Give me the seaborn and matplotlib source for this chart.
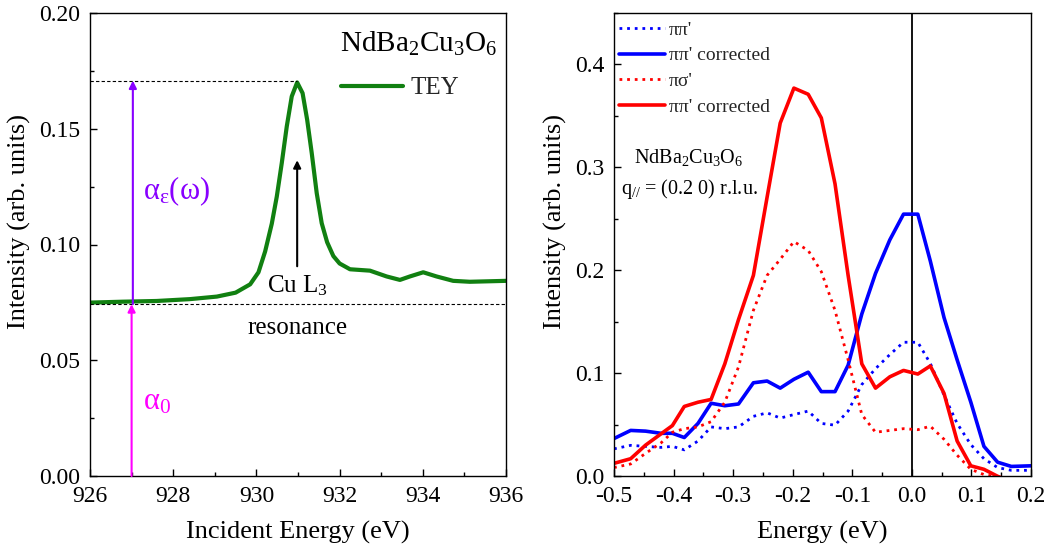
import numpy as np
import pandas as pd
import matplotlib
matplotlib.use("Agg")
import matplotlib.pyplot as plt
from matplotlib.ticker import AutoMinorLocator
import seaborn as sns

# ---------------- data ----------------
# Left panel: TEY absorption
tey_energy = [926.0, 926.8, 927.6, 928.4, 929.05, 929.5, 929.85, 930.05, 930.21,
              930.37, 930.49, 930.61, 930.73, 930.85, 930.98, 931.11, 931.22,
              931.33, 931.45, 931.57, 931.7, 931.85, 932.0, 932.25, 932.73,
              933.13, 933.45, 933.69, 934.01, 934.33, 934.73, 935.13, 936.0]
tey_intensity = [0.0749, 0.0753, 0.0756, 0.0764, 0.0775, 0.0792, 0.0828, 0.0880, 0.0970,
                 0.1090, 0.1207, 0.1352, 0.1510, 0.1640, 0.1700, 0.1654, 0.1539,
                 0.1395, 0.1222, 0.1092, 0.1010, 0.0950, 0.0918, 0.0893, 0.0887,
                 0.0862, 0.0847, 0.0862, 0.0880, 0.0862, 0.0843, 0.0839, 0.0843]
baseline_level = 0.0742
arrow_energy = 927.0

# Right panel: RIXS spectra
rixs_energy = [-0.500, -0.472, -0.447, -0.421, -0.402, -0.382, -0.359, -0.337, -0.314,
               -0.291, -0.266, -0.243, -0.221, -0.198, -0.174, -0.152, -0.129, -0.107,
               -0.084, -0.061, -0.037, -0.014, 0.010, 0.031, 0.054, 0.076, 0.099,
               0.121, 0.144, 0.167, 0.200]
pipi = [0.0264, 0.0298, 0.0288, 0.0278, 0.0288, 0.0254, 0.0340, 0.0477, 0.0460,
        0.0477, 0.0580, 0.0614, 0.0563, 0.0597, 0.0631, 0.0511, 0.0494, 0.0631,
        0.0889, 0.1043, 0.1180, 0.1300, 0.1300, 0.1094, 0.0786, 0.0511, 0.0305,
        0.0168, 0.0082, 0.0055, 0.0055]
pipi_corr = [0.0364, 0.0443, 0.0436, 0.0415, 0.0415, 0.0374, 0.0511, 0.0707, 0.0683,
             0.0700, 0.0906, 0.0923, 0.0854, 0.0940, 0.1009, 0.0820, 0.0820, 0.1077,
             0.1575, 0.1969, 0.2295, 0.2545, 0.2545, 0.2089, 0.1540, 0.1129, 0.0717,
             0.0288, 0.0134, 0.0093, 0.0099]
pisig = [0.0082, 0.0117, 0.0220, 0.0322, 0.0425, 0.0460, 0.0477, 0.0528, 0.0717,
         0.1060, 0.1610, 0.1950, 0.2106, 0.2278, 0.2192, 0.1986, 0.1610, 0.1129,
         0.0597, 0.0425, 0.0443, 0.0460, 0.0450, 0.0484, 0.0357, 0.0202, 0.0065,
         0.0014, -0.0010, -0.0040, -0.0060]
pisig_corr = [0.0123, 0.0168, 0.0300, 0.0410, 0.0490, 0.0676, 0.0717, 0.0744, 0.1090,
              0.1520, 0.1950, 0.2710, 0.3430, 0.3770, 0.3710, 0.3480, 0.2840, 0.1950,
              0.1090, 0.0854, 0.0964, 0.1026, 0.0991, 0.1070, 0.0803, 0.0340, 0.0099,
              0.0065, -0.0003, -0.0055, -0.0100]
legend_labels = ["\u03c0\u03c0'", "\u03c0\u03c0' corrected", "\u03c0\u03c3'", "\u03c0\u03c0' corrected"]

# ---------------- style ----------------
sns.set_theme(style="ticks")
plt.rcParams["font.family"] = ["Liberation Serif", "DejaVu Serif"]
plt.rcParams["mathtext.fontset"] = "custom"
plt.rcParams["mathtext.rm"] = "Liberation Serif"
plt.rcParams["mathtext.it"] = "Liberation Serif:italic"
plt.rcParams["mathtext.default"] = "regular"
plt.rcParams["axes.unicode_minus"] = False

GREEN = "#118011"
BLUE = "#0000ff"
RED = "#ff0000"
PURPLE = "#8800ff"
MAGENTA = "#ff00ff"

W, H = 1048, 553
fig = plt.figure(figsize=(W / 100, H / 100), dpi=100)
ax1 = fig.add_axes([90 / W, (H - 476) / H, 416 / W, 463 / H])
ax2 = fig.add_axes([614 / W, (H - 476) / H, 417 / W, 463 / H])


def style_axis(ax):
    for s in ax.spines.values():
        s.set_color("black")
        s.set_linewidth(1.0)
    ax.tick_params(which="both", direction="in", top=False, right=False,
                   colors="black", labelsize=17, width=1.0, pad=7)
    ax.tick_params(which="major", length=5)
    ax.tick_params(which="minor", length=3)
    ax.xaxis.set_minor_locator(AutoMinorLocator(2))
    ax.yaxis.set_minor_locator(AutoMinorLocator(2))


# ---------------- left panel ----------------
df_tey = pd.DataFrame({"E": tey_energy, "I": tey_intensity})
sns.lineplot(data=df_tey, x="E", y="I", ax=ax1, color=GREEN, lw=3,
             sort=False, estimator=None, label="TEY")

peak_idx = int(np.argmax(tey_intensity))
peak_E = tey_energy[peak_idx]
peak_I = tey_intensity[peak_idx]

ax1.set_xlim(926, 936)
ax1.set_ylim(0, 0.20)
ax1.set_xticks([926, 928, 930, 932, 934, 936])
ax1.set_yticks([0.0, 0.05, 0.10, 0.15, 0.20])
ax1.set_yticklabels([f"{v:.2f}" for v in [0.0, 0.05, 0.10, 0.15, 0.20]])
style_axis(ax1)

ax1.hlines(peak_I + 0.0008, 926, peak_E, colors="black", lw=0.8, linestyles=(0, (3, 2)))
ax1.hlines(baseline_level, 926, 936, colors="black", lw=0.8, linestyles=(0, (3, 2)))

arr = dict(arrowstyle="-|>", lw=1.5, mutation_scale=11, shrinkA=0, shrinkB=0)
ax1.annotate("", xy=(arrow_energy, baseline_level), xytext=(arrow_energy, 0),
             arrowprops=dict(arr, color=MAGENTA))
ax1.annotate("", xy=(arrow_energy + 0.03, peak_I + 0.0008),
             xytext=(arrow_energy + 0.03, baseline_level),
             arrowprops=dict(arr, color=PURPLE))
ax1.annotate("", xy=(peak_E, 0.1364), xytext=(peak_E, 0.0906),
             arrowprops=dict(arr, color="black"))

ax1.text(927.27, 0.1228, "\u03b1$_{\u03b5}$(\u03c9)", color=PURPLE, fontsize=22,
         ha="left", va="center")
ax1.text(927.27, 0.032, "\u03b1$_{0}$", color=MAGENTA, fontsize=22,
         ha="left", va="center")
ax1.text(peak_E, 0.082, "Cu L$_{3}$", color="black", fontsize=18,
         ha="center", va="center")
ax1.text(peak_E, 0.064, "resonance", color="black", fontsize=18,
         ha="center", va="center")
ax1.text(935.78, 0.1867, "NdBa$_{2}$Cu$_{3}$O$_{6}$", color="black", fontsize=21,
         ha="right", va="center")

ax1.legend(loc="center left", bbox_to_anchor=(0.603, 0.838), frameon=False,
           fontsize=18, handlelength=2.48, handletextpad=0.3, borderpad=0,
           borderaxespad=0)

ax1.set_xlabel("Incident Energy (eV)", fontsize=19, color="black", labelpad=10)
ax1.set_ylabel("Intensity (arb. units)", fontsize=19, color="black")
ax1.yaxis.set_label_coords(-0.143, 0.55)

# ---------------- right panel ----------------
df_r = pd.DataFrame({"E": rixs_energy, "pipi": pipi, "pipi_corr": pipi_corr,
                     "pisig": pisig, "pisig_corr": pisig_corr})
dot = (0, (1, 1.75))
sns.lineplot(data=df_r, x="E", y="pipi", ax=ax2, color=BLUE, lw=2, linestyle=dot,
             sort=False, estimator=None, label=legend_labels[0])
sns.lineplot(data=df_r, x="E", y="pipi_corr", ax=ax2, color=BLUE, lw=2.6,
             sort=False, estimator=None, label=legend_labels[1])
sns.lineplot(data=df_r, x="E", y="pisig", ax=ax2, color=RED, lw=2, linestyle=dot,
             sort=False, estimator=None, label=legend_labels[2])
sns.lineplot(data=df_r, x="E", y="pisig_corr", ax=ax2, color=RED, lw=2.6,
             sort=False, estimator=None, label=legend_labels[3])
ax2.axvline(0, color="black", lw=1.3, zorder=1)

ax2.set_xlim(-0.5, 0.2)
ax2.set_ylim(0, 0.45)
xt = [-0.5, -0.4, -0.3, -0.2, -0.1, 0.0, 0.1, 0.2]
ax2.set_xticks(xt)
ax2.set_xticklabels([f"{v:.1f}" for v in xt])
yt = [0.0, 0.1, 0.2, 0.3, 0.4]
ax2.set_yticks(yt)
ax2.set_yticklabels([f"{v:.1f}" for v in yt])
style_axis(ax2)

ax2.legend(loc="upper left", bbox_to_anchor=(5 / 417, 1 - 8 / 463), frameon=False,
           fontsize=14, handlelength=2.35, handletextpad=0.2, borderpad=0,
           borderaxespad=0, labelspacing=0.42)

ax2.text(-0.374, 0.310, "NdBa$_{2}$Cu$_{3}$O$_{6}$", fontsize=14.5, color="black",
         ha="center", va="center")
ax2.text(-0.374, 0.279, "q$_{//}$ = (0.2 0) r.l.u.", fontsize=14.5, color="black",
         ha="center", va="center")

ax2.set_xlabel("Energy (eV)", fontsize=19, color="black", labelpad=10)
ax2.set_ylabel("Intensity (arb. units)", fontsize=19, color="black")
ax2.yaxis.set_label_coords(-0.112, 0.55)

fig.savefig("out.png", dpi=100)
